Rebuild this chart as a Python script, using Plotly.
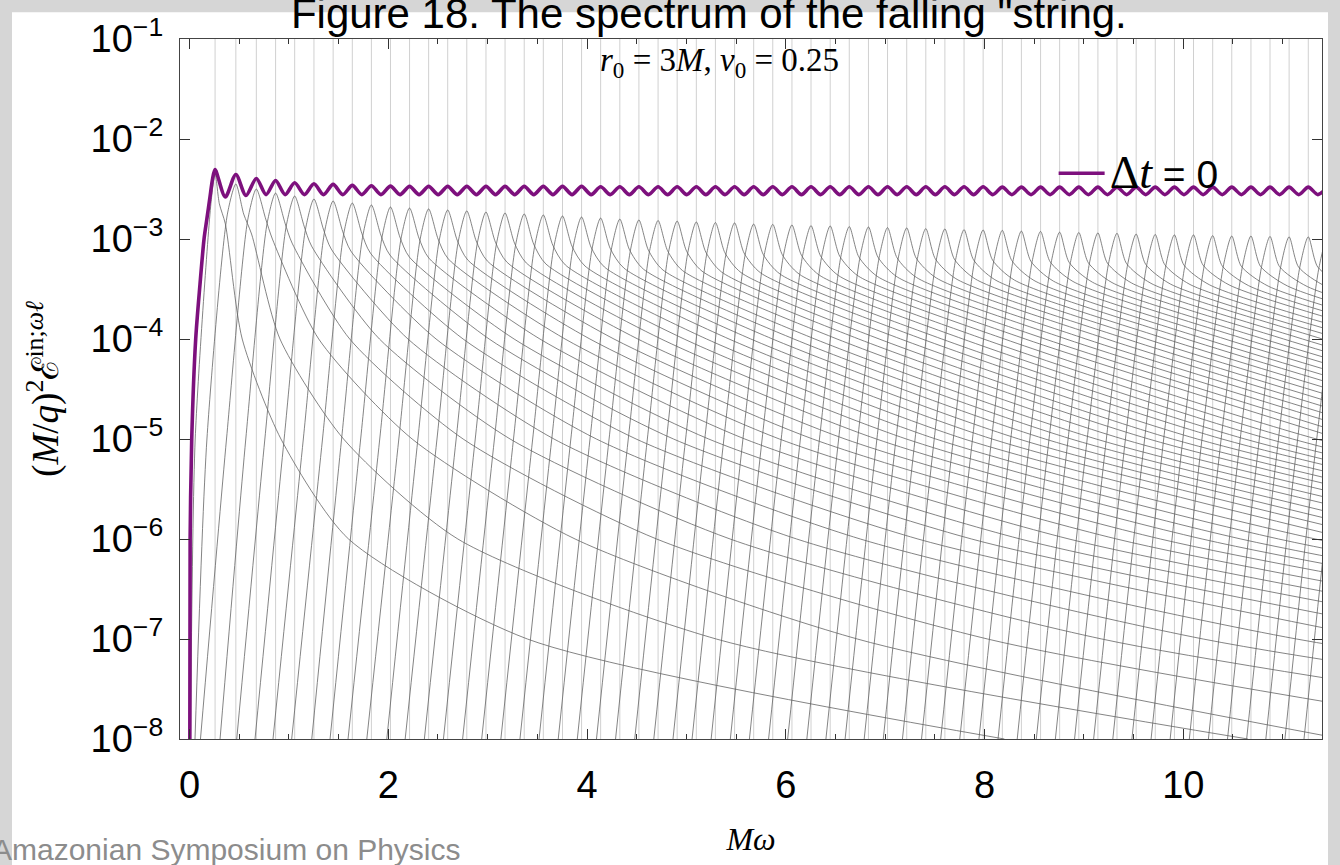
import plotly.graph_objects as go

# ---------------- data ----------------
# multipole curves l = 1..61 : frequency of each peak and the peak value
peak_omega = [0.257, 0.466, 0.672, 0.866, 1.058, 1.252, 1.445, 1.638, 1.83, 2.022,
              2.214, 2.406, 2.598, 2.79, 2.983, 3.175, 3.368, 3.56, 3.753, 3.945,
              4.137, 4.33, 4.522, 4.715, 4.907, 5.1, 5.292, 5.485, 5.677, 5.869,
              6.062, 6.254, 6.447, 6.639, 6.832, 7.024, 7.217, 7.409, 7.601, 7.794,
              7.986, 8.179, 8.371, 8.564, 8.756, 8.949, 9.141, 9.333, 9.526, 9.718,
              9.911, 10.103, 10.296, 10.488, 10.681, 10.873, 11.065, 11.258, 11.451, 11.643,
              11.835]
peak_energy = [4.5e-3, 3.55e-3, 3.16e-3, 2.88e-3, 2.69e-3, 2.51e-3, 2.40e-3, 2.29e-3, 2.19e-3, 2.09e-3,
               2.04e-3, 2.00e-3, 1.95e-3, 1.91e-3, 1.86e-3, 1.82e-3, 1.78e-3, 1.74e-3, 1.70e-3, 1.66e-3,
               1.62e-3, 1.58e-3, 1.55e-3, 1.53e-3, 1.51e-3, 1.48e-3, 1.46e-3, 1.45e-3, 1.41e-3, 1.40e-3,
               1.38e-3, 1.36e-3, 1.35e-3, 1.33e-3, 1.32e-3, 1.30e-3, 1.29e-3, 1.27e-3, 1.26e-3, 1.24e-3,
               1.23e-3, 1.22e-3, 1.20e-3, 1.19e-3, 1.17e-3, 1.16e-3, 1.15e-3, 1.14e-3, 1.12e-3, 1.11e-3,
               1.10e-3, 1.10e-3, 1.08e-3, 1.07e-3, 1.07e-3, 1.06e-3, 1.05e-3, 1.05e-3, 1.04e-3, 1.03e-3,
               1.02e-3]
# rising side: frequency where each curve crosses 1e-8 and 1e-5
rise_1e8_omega = [0.010, 0.055, 0.11, 0.307, 0.475, 0.659, 0.84, 1.028, 1.23, 1.414,
                  1.595, 1.784, 1.985, 2.17, 2.363, 2.555, 2.748, 2.94, 3.133, 3.325,
                  3.517, 3.71, 3.902, 4.095, 4.287, 4.48, 4.672, 4.865, 5.057, 5.249,
                  5.442, 5.634, 5.827, 6.019, 6.212, 6.404, 6.597, 6.789, 6.981, 7.174,
                  7.366, 7.559, 7.751, 7.944, 8.136, 8.329, 8.521, 8.713, 8.906, 9.098,
                  9.291, 9.483, 9.676, 9.868, 10.061, 10.253, 10.445, 10.638, 10.831, 11.023,
                  11.215]
rise_1e5_omega = [0.057, 0.175, 0.372, 0.566, 0.758, 0.952, 1.145, 1.338, 1.53, 1.722,
                  1.914, 2.106, 2.298, 2.49, 2.683, 2.875, 3.068, 3.26, 3.453, 3.645,
                  3.837, 4.03, 4.222, 4.415, 4.607, 4.8, 4.992, 5.185, 5.377, 5.569,
                  5.762, 5.954, 6.147, 6.339, 6.532, 6.724, 6.917, 7.109, 7.301, 7.494,
                  7.686, 7.879, 8.071, 8.264, 8.456, 8.649, 8.841, 9.033, 9.226, 9.418,
                  9.611, 9.803, 9.996, 10.188, 10.381, 10.573, 10.765, 10.958, 11.151, 11.343,
                  11.535]
# rounded top: frequencies left / right of each peak where the curve is at half the peak value
top_ratio = 0.5
top_left_omega = [0.215, 0.381, 0.587, 0.781, 0.973, 1.167, 1.36, 1.553, 1.745, 1.937,
                  2.129, 2.321, 2.513, 2.705, 2.898, 3.09, 3.283, 3.475, 3.668, 3.86,
                  4.052, 4.245, 4.437, 4.63, 4.822, 5.015, 5.207, 5.40, 5.592, 5.784,
                  5.977, 6.169, 6.362, 6.554, 6.747, 6.939, 7.132, 7.324, 7.516, 7.709,
                  7.901, 8.094, 8.286, 8.479, 8.671, 8.864, 9.056, 9.248, 9.441, 9.633,
                  9.826, 10.018, 10.211, 10.403, 10.596, 10.788, 10.98, 11.173, 11.366, 11.558,
                  11.75]
top_right_omega = [0.30, 0.545, 0.767, 0.961, 1.153, 1.347, 1.54, 1.733, 1.925, 2.117,
                   2.309, 2.501, 2.693, 2.885, 3.078, 3.27, 3.463, 3.655, 3.848, 4.04,
                   4.232, 4.425, 4.617, 4.81, 5.002, 5.195, 5.387, 5.58, 5.772, 5.964,
                   6.157, 6.349, 6.542, 6.734, 6.927, 7.119, 7.312, 7.504, 7.696, 7.889,
                   8.081, 8.274, 8.466, 8.659, 8.851, 9.044, 9.236, 9.428, 9.621, 9.813,
                   10.006, 10.198, 10.391, 10.583, 10.776, 10.968, 11.16, 11.353, 11.546, 11.738,
                   11.93]
# decaying side: frequency where each curve is half a decade below its peak,
# and where it crosses 1e-4 ... 1e-8
tail_half_ratio = 0.316
tail_half_omega = [0.36, 0.624, 0.834, 1.032, 1.228, 1.426, 1.623, 1.82, 2.016, 2.212,
                   2.408, 2.604, 2.80, 2.996, 3.193, 3.389, 3.586, 3.782, 3.979, 4.175,
                   4.371, 4.568, 4.764, 4.961, 5.157, 5.354, 5.55, 5.747, 5.943, 6.139,
                   6.336, 6.532, 6.729, 6.925, 7.122, 7.318, 7.515, 7.711, 7.907, 8.104,
                   8.30, 8.497, 8.693, 8.89, 9.086, 9.283, 9.479, 9.675, 9.872, 10.068,
                   10.265, 10.461, 10.658, 10.854, 11.051, 11.247, 11.443, 11.64, 11.837, 12.033,
                   12.229]
tail_1e4_omega = [0.53, 0.91, 1.30, 1.612, 1.911, 2.198, 2.481, 2.753, 3.015, 3.266,
                  3.526, 3.779, 4.029, 4.271, 4.511, 4.746, 4.977, 5.203, 5.429, 5.648,
                  5.867, 6.081, 6.292, 6.516, 6.734, 6.94, 7.156, 7.372, 7.57, 7.782,
                  7.99, 8.2, 8.41, 8.61, 8.82, 9.02, 9.23, 9.43, 9.63, 9.83,
                  10.03, 10.22, 10.42, 10.62, 10.81, 11.01, 11.2, 11.4, 11.59, 11.79,
                  11.98, 12.19, 12.38, 12.57, 12.77, 12.96, 13.15, 13.36, None, None,
                  None]
tail_1e5_omega = [0.92, 1.55, 2.24, 2.753, 3.226, 3.667, 4.094, 4.494, 4.87, 5.224,
                  5.588, 5.936, 6.272, 6.596, 6.912, 7.214, 7.51, 7.795, 8.076, 8.345,
                  8.61, 8.872, 9.123, 9.39, 9.652, 9.89, 10.14, 10.39, 10.62, 10.86,
                  11.1, 11.34, 11.58, 11.8, 12.04, 12.27, 12.49, 12.71, 12.93, 13.15,
                  13.37, 13.59, 13.8, 14.02, 14.22, 14.43, 14.65, 14.85, None, None,
                  None, None, None, None, None, None, None, None, None, None,
                  None]
tail_1e6_omega = [1.6, 2.7, 3.88, 4.70, 5.44, 6.11, 6.75, 7.33, 7.87, 8.36,
                  8.85, 9.33, 9.77, 10.19, 10.58, 10.96, 11.33, 11.67, 12.0, 12.3,
                  12.6, 12.94, 13.23, 13.53, 13.83, 14.1, 14.4, 14.7, 14.9, 15.2,
                  15.4, 15.7, None, None, None, None, None, None, None, None,
                  None, None, None, None, None, None, None, None, None, None,
                  None, None, None, None, None, None, None, None, None, None,
                  None]
tail_1e7_omega = [3.4, 5.3, 6.72, 8.03, 9.18, 10.2, 11.14, 11.97, 12.7, 13.4,
                  14.0, 14.6, 15.2, 15.7, 16.2, 16.7, 17.1, None, None, None,
                  None, None, None, None, None, None, None, None, None, None,
                  None, None, None, None, None, None, None, None, None, None,
                  None, None, None, None, None, None, None, None, None, None,
                  None, None, None, None, None, None, None, None, None, None,
                  None]
tail_1e8_omega = [8.2, 10.65, 11.6, 13.7, 15.5, 17.0, 18.4, None, None, None,
                  None, None, None, None, None, None, None, None, None, None,
                  None, None, None, None, None, None, None, None, None, None,
                  None, None, None, None, None, None, None, None, None, None,
                  None, None, None, None, None, None, None, None, None, None,
                  None, None, None, None, None, None, None, None, None, None,
                  None]

# total spectrum (Delta t = 0), purple curve
total_omega = [0.003, 0.006, 0.022, 0.062, 0.105, 0.146, 0.175, 0.205, 0.232, 0.257,
               0.36, 0.466, 0.568, 0.672, 0.77, 0.866, 0.962, 1.058, 1.155, 1.252,
               1.348, 1.445, 1.542, 1.638, 1.734, 1.83, 1.926, 2.022, 2.118, 2.214,
               2.31, 2.406, 2.502, 2.598, 2.694, 2.79, 2.887, 2.983, 3.079, 3.175,
               3.272, 3.368, 3.464, 3.56, 3.657, 3.753, 3.849, 3.945, 4.041, 4.137,
               4.234, 4.33, 4.426, 4.522, 4.619, 4.715, 4.811, 4.907, 5.004, 5.1,
               5.196, 5.292, 5.389, 5.485, 5.581, 5.677, 5.773, 5.869, 5.966, 6.062,
               6.158, 6.254, 6.351, 6.447, 6.543, 6.639, 6.736, 6.832, 6.928, 7.024,
               7.121, 7.217, 7.313, 7.409, 7.505, 7.601, 7.698, 7.794, 7.89, 7.986,
               8.083, 8.179, 8.275, 8.371, 8.468, 8.564, 8.66, 8.756, 8.853, 8.949,
               9.045, 9.141, 9.237, 9.333, 9.43, 9.526, 9.622, 9.718, 9.815, 9.911,
               10.007, 10.103, 10.2, 10.296, 10.392, 10.488, 10.585, 10.681, 10.777, 10.873,
               10.969, 11.065, 11.162, 11.258, 11.355, 11.451]
total_energy = [1e-8, 1e-6, 1e-5, 1e-4, 3.5e-4, 1e-3, 1.6e-3, 2.6e-3, 4.0e-3, 4.94e-3,
                2.63e-3, 4.42e-3, 2.72e-3, 4.03e-3, 2.78e-3, 3.85e-3, 2.78e-3, 3.65e-3, 2.78e-3, 3.57e-3,
                2.78e-3, 3.52e-3, 2.78e-3, 3.44e-3, 2.78e-3, 3.41e-3, 2.78e-3, 3.38e-3, 2.78e-3, 3.36e-3,
                2.78e-3, 3.36e-3, 2.78e-3, 3.36e-3, 2.78e-3, 3.36e-3, 2.78e-3, 3.36e-3, 2.78e-3, 3.36e-3,
                2.78e-3, 3.36e-3, 2.78e-3, 3.36e-3, 2.78e-3, 3.36e-3, 2.78e-3, 3.36e-3, 2.78e-3, 3.33e-3,
                2.78e-3, 3.33e-3, 2.78e-3, 3.33e-3, 2.78e-3, 3.33e-3, 2.78e-3, 3.33e-3, 2.78e-3, 3.33e-3,
                2.78e-3, 3.33e-3, 2.78e-3, 3.33e-3, 2.78e-3, 3.33e-3, 2.78e-3, 3.33e-3, 2.78e-3, 3.33e-3,
                2.78e-3, 3.33e-3, 2.78e-3, 3.33e-3, 2.78e-3, 3.33e-3, 2.78e-3, 3.33e-3, 2.78e-3, 3.33e-3,
                2.78e-3, 3.33e-3, 2.78e-3, 3.33e-3, 2.78e-3, 3.33e-3, 2.78e-3, 3.33e-3, 2.78e-3, 3.33e-3,
                2.78e-3, 3.30e-3, 2.78e-3, 3.30e-3, 2.78e-3, 3.30e-3, 2.78e-3, 3.30e-3, 2.78e-3, 3.30e-3,
                2.78e-3, 3.30e-3, 2.78e-3, 3.30e-3, 2.78e-3, 3.30e-3, 2.78e-3, 3.30e-3, 2.78e-3, 3.30e-3,
                2.78e-3, 3.30e-3, 2.78e-3, 3.30e-3, 2.78e-3, 3.30e-3, 2.78e-3, 3.30e-3, 2.78e-3, 3.30e-3,
                2.78e-3, 3.30e-3, 2.78e-3, 3.30e-3, 2.78e-3, 3.30e-3]

x_tick_values = [0, 2, 4, 6, 8, 10]
x_tick_text = ["0", "2", "4", "6", "8", "10"]
y_tick_values = [1e-8, 1e-7, 1e-6, 1e-5, 1e-4, 1e-3, 1e-2, 1e-1]
y_tick_text = ["10<sup>\u22128</sup>", "10<sup>\u22127</sup>", "10<sup>\u22126</sup>", "10<sup>\u22125</sup>",
               "10<sup>\u22124</sup>", "10<sup>\u22123</sup>", "10<sup>\u22122</sup>", "10<sup>\u22121</sup>"]

# ---------------- figure ----------------
fig = go.Figure()

# light vertical lines at the peak frequencies
gx, gy = [], []
for w in peak_omega:
    gx += [w, w, None]
    gy += [1e-8, 1e-1, None]
fig.add_trace(go.Scatter(x=gx, y=gy, mode="lines", line=dict(color="rgb(208,208,208)", width=1),
                         hoverinfo="skip", showlegend=False))

tail_levels = [(tail_1e4_omega, 1e-4), (tail_1e5_omega, 1e-5), (tail_1e6_omega, 1e-6),
               (tail_1e7_omega, 1e-7), (tail_1e8_omega, 1e-8)]
for i in range(len(peak_omega)):
    xs = [rise_1e8_omega[i], rise_1e5_omega[i], top_left_omega[i], peak_omega[i],
          top_right_omega[i], tail_half_omega[i]]
    ys = [1e-8, 1e-5, peak_energy[i] * top_ratio, peak_energy[i],
          peak_energy[i] * top_ratio, peak_energy[i] * tail_half_ratio]
    for arr, lev in tail_levels:
        if arr[i] is None:
            break
        xs.append(arr[i]); ys.append(lev)
    fig.add_trace(go.Scatter(x=xs, y=ys, mode="lines",
                             line=dict(color="rgb(100,100,100)", width=0.8, shape="spline", smoothing=0.7),
                             hoverinfo="skip", showlegend=False))

fig.add_trace(go.Scatter(x=total_omega, y=total_energy, mode="lines",
                         name='<span style="font-family:Liberation Serif;font-size:46px">\u0394<i>t</i></span> = 0',
                         line=dict(color="#7d107d", width=3.6, shape="spline", smoothing=0.8),
                         showlegend=True))

axis_font = dict(family="Liberation Sans", size=38, color="black")
fig.update_xaxes(range=[-0.096, 11.396], tickmode="array", tickvals=x_tick_values, ticktext=x_tick_text,
                 ticks="inside", ticklen=10, tickwidth=1.2, tickcolor="#333",
                 minor=dict(tick0=0, dtick=0.5, ticks="inside", ticklen=5, tickwidth=1, tickcolor="#333", showgrid=False),
                 showline=True, linecolor="#444", linewidth=1.4, mirror="ticks",
                 showgrid=False, zeroline=False, tickfont=axis_font, ticklabelstandoff=12,
                 title=dict(text="<i>M\u03c9</i>", font=dict(family="Liberation Serif", size=32, color="black"),
                            standoff=22))
fig.update_yaxes(type="log", range=[-8, -1], tickmode="array", tickvals=y_tick_values, ticktext=y_tick_text,
                 ticks="inside", ticklen=10, tickwidth=1.2, tickcolor="#333",
                 showline=True, linecolor="#444", linewidth=1.4, mirror="ticks",
                 showgrid=False, zeroline=False, tickfont=axis_font, ticklabelstandoff=8,
                 title=dict(text="(<i>M</i>/<i>q</i>)<sup>2</sup>\u2130<sup>in;<i>\u03c9\u2113</i></sup>",
                            font=dict(family="Liberation Serif", size=37, color="black"), standoff=20))

fig.update_layout(
    width=1340, height=865, autosize=False,
    margin=dict(l=180, r=18, t=33, b=126, pad=0),
    paper_bgcolor="rgb(214,214,214)", plot_bgcolor="white",
    font=dict(family="Liberation Sans", color="black"),
    title=dict(text='Figure 18. The spectrum of the falling "string.', x=0.529, xanchor="center",
               y=0.9845, yanchor="middle", font=dict(family="Liberation Sans", size=42, color="black")),
    legend=dict(x=0.765, y=0.808, xanchor="left", yanchor="middle", bgcolor="rgba(0,0,0,0)",
                font=dict(family="Liberation Sans", size=39, color="black"), itemwidth=46),
    shapes=[dict(type="rect", xref="paper", yref="paper", x0=-0.1471, x1=1.00525, y0=-0.2, y1=1.0382,
                 fillcolor="white", line=dict(width=0), layer="below")],
    annotations=[
        dict(text="<i>r</i><sub>0</sub> = 3<i>M</i>, <i>v</i><sub>0</sub> = 0.25", xref="paper", yref="paper",
             x=0.472, y=0.967, xanchor="center", yanchor="middle", showarrow=False,
             font=dict(family="Liberation Serif", size=33, color="black")),
        dict(text="Amazonian Symposium on Physics", xref="paper", yref="paper",
             x=-0.1664, y=-0.158, xanchor="left", yanchor="middle", showarrow=False,
             font=dict(family="Liberation Sans", size=30, color="rgb(140,140,140)")),
    ],
)

fig.write_html("out.html", config={"displayModeBar": False})
